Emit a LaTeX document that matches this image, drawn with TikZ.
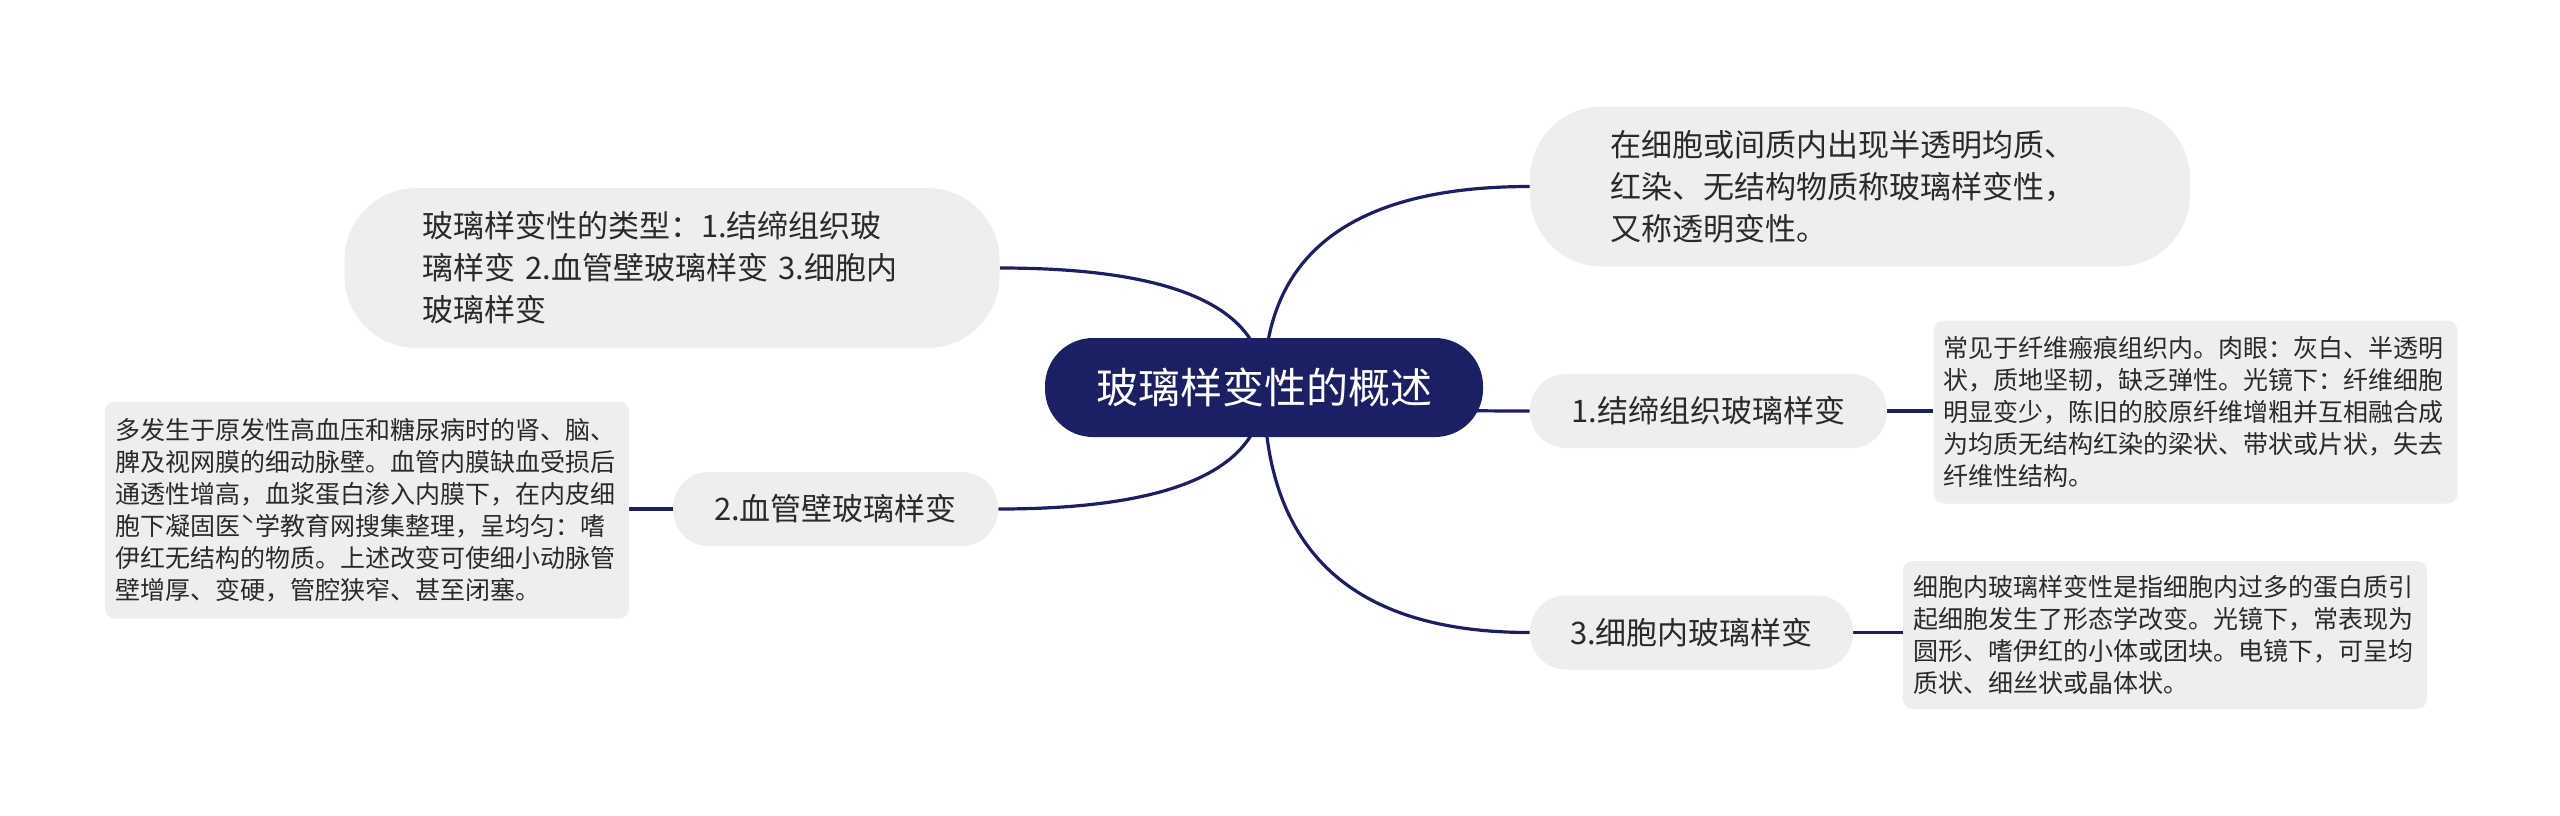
\documentclass[tikz,border=0pt]{standalone}
\usepackage{fontspec}
\usepackage{xcolor}
\usepackage{tikz}
\usetikzlibrary{calc,backgrounds}
\newfontfamily\cjk{Noto Sans CJK SC}
\definecolor{navy}{HTML}{1B2064}
\definecolor{pill}{HTML}{EEEEEE}
\definecolor{ink}{HTML}{2A2A2A}
\tikzset{
  rootbox/.style={fill=navy, text=white, rounded corners=24pt, minimum width=219pt,
    minimum height=49.5pt, inner sep=0pt, font=\cjk\fontsize{21}{25}\selectfont},
  topicbox/.style={fill=pill, text=ink, rounded corners=18pt, inner sep=0pt,
    minimum height=37pt, font=\cjk\fontsize{15.5}{21}\selectfont},
  bigtopic/.style={topicbox, rounded corners=36pt, align=left, text width=250pt, minimum height=80pt},
  notebox/.style={fill=pill, text=ink, rounded corners=5pt, inner xsep=5pt, inner ysep=0pt,
    text width=252pt, align=left, font=\cjk\fontsize{12.5}{16}\selectfont},
  link/.style={draw=navy, line width=1.6pt},
  branch/.style={link, to path={.. controls ($(\tikztostart)!0.667!(\tikztostart|-\tikztotarget)$)
    and ($(\tikztotarget)!0.667!(\tikztostart|-\tikztotarget)$) .. (\tikztotarget)}}
}
\begin{document}
\begin{tikzpicture}[x=0.5pt, y=-0.5pt]
  \useasboundingbox (0,0) rectangle (2560,815);

  % centre and main topics
  \node[rootbox] (root) at (1264,387.5) {玻璃样变性的概述};
  \node[bigtopic, minimum width=330pt] (def) at (1860,186.5)
    {在细胞或间质内出现半透明均质、\\红染、无结构物质称玻璃样变性，\\又称透明变性。};
  \node[bigtopic, minimum width=327.5pt] (types) at (672,268)
    {玻璃样变性的类型：1.结缔组织玻\\璃样变 2.血管壁玻璃样变 3.细胞内\\玻璃样变};
  \node[topicbox, minimum width=178.5pt] (b1) at (1708.5,411) {1.结缔组织玻璃样变};
  \node[topicbox, minimum width=162.5pt] (b2) at (835.5,509) {2.血管壁玻璃样变};
  \node[topicbox, minimum width=161.5pt] (b3) at (1691.5,632.5) {3.细胞内玻璃样变};

  % notes
  \node[notebox, minimum height=91.5pt] (d1) at (2195.5,412)
    {常见于纤维瘢痕组织内。肉眼：灰白、半透明\\状，质地坚韧，缺乏弹性。光镜下：纤维细胞\\明显变少，陈旧的胶原纤维增粗并互相融合成\\为均质无结构红染的梁状、带状或片状，失去\\纤维性结构。};
  \node[notebox, minimum height=108.5pt] (d2) at (367,510)
    {多发生于原发性高血压和糖尿病时的肾、脑、\\脾及视网膜的细动脉壁。血管内膜缺血受损后\\通透性增高，血浆蛋白渗入内膜下，在内皮细\\胞下凝固医ˋ学教育网搜集整理，呈均匀：嗜\\伊红无结构的物质。上述改变可使细小动脉管\\壁增厚、变硬，管腔狭窄、甚至闭塞。};
  \node[notebox, minimum height=74pt] (d3) at (2165,635)
    {细胞内玻璃样变性是指细胞内过多的蛋白质引\\起细胞发生了形态学改变。光镜下，常表现为\\圆形、嗜伊红的小体或团块。电镜下，可呈均\\质状、细丝状或晶体状。};

  \begin{scope}[on background layer]
    \fill[white] (0,0) rectangle (2560,815);
    \draw[branch] (root.center) to (def.west);
    \draw[branch] (root.center) to (types.east);
    \draw[branch] (root.center) to (b1.west);
    \draw[branch] (root.center) to (b2.east);
    \draw[branch] (root.center) to (b3.west);
    \draw[link] (b1.east) -- (b1.east -| d1.west);
    \draw[link] (b2.west) -- (b2.west -| d2.east);
    \draw[link] (b3.east) -- (b3.east -| d3.west);
  \end{scope}
\end{tikzpicture}
\end{document}
